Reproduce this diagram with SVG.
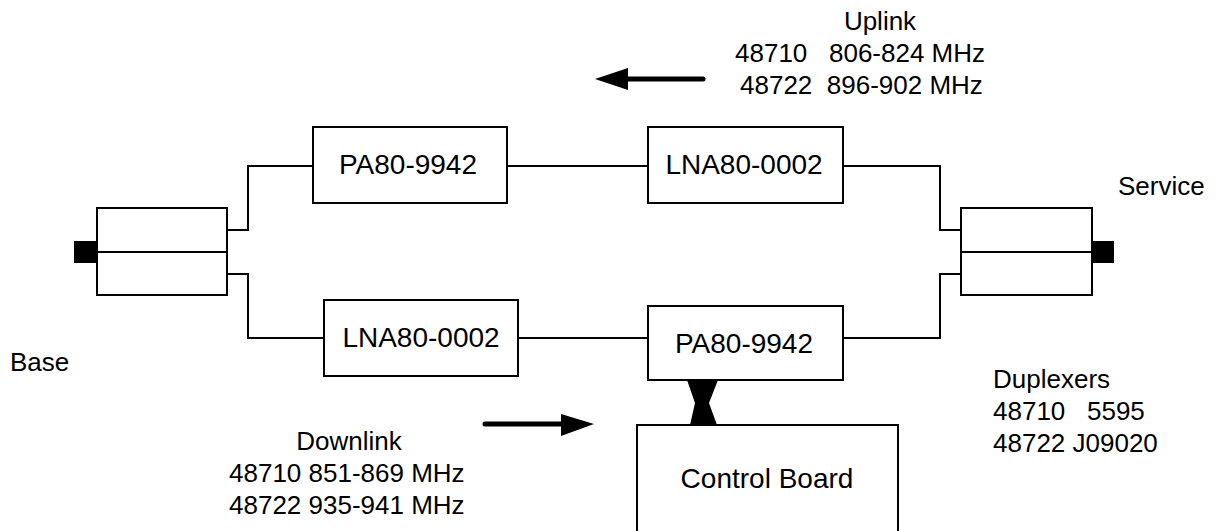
<svg xmlns="http://www.w3.org/2000/svg" width="1220" height="531" viewBox="0 0 1220 531">
<style>
.box{fill:#fff;stroke:#000;stroke-width:2}
.ln{fill:none;stroke:#000;stroke-width:2}
.t{font-family:"Liberation Sans",Arial,sans-serif;font-size:26px;fill:#000}
.b{font-size:28px}
.m{text-anchor:middle}
</style>
<rect width="1220" height="531" fill="#fff"/>
<g id="connectors">
<polyline class="ln" points="227,230 248,230 248,166 313,166"/>
<polyline class="ln" points="227,274 248,274 248,338 324,338"/>
<line class="ln" x1="507" y1="166" x2="648" y2="166"/>
<line class="ln" x1="518" y1="338" x2="648" y2="338"/>
<polyline class="ln" points="843,166 940,166 940,230 961,230"/>
<polyline class="ln" points="843,338 940,338 940,274 961,274"/>
<polygon points="687,380 718,380 709,403 717,425 690,425 695,403" fill="#000"/>
</g>
<g id="duplexer-left">
<rect class="box" x="97" y="208" width="130" height="87"/>
<line class="ln" x1="97" y1="252" x2="227" y2="252"/>
<rect x="74" y="241" width="23" height="22" fill="#000"/>
</g>
<g id="duplexer-right">
<rect class="box" x="961" y="208" width="131" height="87"/>
<line class="ln" x1="961" y1="252" x2="1092" y2="252"/>
<rect x="1092" y="241" width="22" height="22" fill="#000"/>
</g>
<g id="pa-top">
<rect class="box" x="313" y="127" width="194" height="76"/>
<text class="t b m" x="408" y="174">PA80-9942</text>
</g>
<g id="lna-top">
<rect class="box" x="648" y="127" width="195" height="76"/>
<text class="t b m" x="744" y="174">LNA80-0002</text>
</g>
<g id="lna-bottom">
<rect class="box" x="324" y="300" width="194" height="76"/>
<text class="t b m" x="421" y="347">LNA80-0002</text>
</g>
<g id="pa-bottom">
<rect class="box" x="648" y="306" width="195" height="74"/>
<text class="t b m" x="744" y="353">PA80-9942</text>
</g>
<g id="control-board">
<rect class="box" x="637" y="425" width="261" height="120"/>
<text class="t b m" x="767" y="488">Control Board</text>
</g>
<g id="uplink">
<line x1="627" y1="79" x2="703" y2="79" stroke="#000" stroke-width="5" stroke-linecap="round"/>
<polygon points="595,79 628,68 628,90" fill="#000"/>
<text class="t m" x="880" y="30">Uplink</text>
<text class="t" x="735" y="62" xml:space="preserve">48710   806-824 MHz</text>
<text class="t" x="740" y="94" xml:space="preserve">48722  896-902 MHz</text>
</g>
<g id="downlink">
<line x1="485" y1="424" x2="562" y2="424" stroke="#000" stroke-width="5" stroke-linecap="round"/>
<polygon points="594,424 561,414 561,436" fill="#000"/>
<text class="t m" x="349" y="450">Downlink</text>
<text class="t" x="229" y="482">48710 851-869 MHz</text>
<text class="t" x="229" y="514">48722 935-941 MHz</text>
</g>
<g id="labels">
<text class="t" x="1118" y="195">Service</text>
<text class="t" x="10" y="371">Base</text>
<text class="t" x="993" y="388">Duplexers</text>
<text class="t" x="993" y="420" xml:space="preserve">48710   5595</text>
<text class="t" x="993" y="452">48722 J09020</text>
</g>
</svg>
